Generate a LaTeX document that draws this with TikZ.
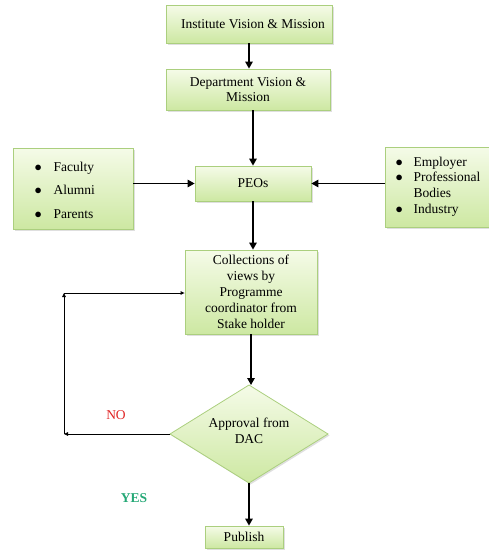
\documentclass[tikz,border=0pt]{standalone}
\usepackage{fontspec}
\setmainfont{Liberation Serif}
\usetikzlibrary{arrows.meta,shapes.geometric,shadows}
\definecolor{boxtop}{HTML}{F5FBE8}
\definecolor{boxbot}{HTML}{CDE8A2}
\definecolor{boxline}{HTML}{ABCF7E}
\definecolor{nored}{HTML}{E02424}
\definecolor{yesgreen}{HTML}{25A876}
\tikzset{
  greenbox/.style={draw=boxline, line width=0.8pt, top color=boxtop, bottom color=boxbot,
    drop shadow={opacity=0.25, shadow xshift=1.5pt, shadow yshift=-1.5pt},
    align=center, font=\fontsize{13.5}{15.5}\selectfont, inner sep=2pt},
  mainarrow/.style={line width=1.4pt, -{Triangle[length=7pt,width=7.5pt]}},
  looparrow/.style={line width=0.9pt, -{Triangle[length=4pt,width=3.5pt]}},
}
\begin{document}
\begin{tikzpicture}[x=1pt,y=-1pt]
\useasboundingbox (0,0) rectangle (489,557);

% main column
\node[greenbox, minimum width=166pt, minimum height=38pt] (ivm) at (249,24) {\hspace{8pt}Institute Vision \& Mission};
\node[greenbox, minimum width=164pt, minimum height=41pt] (dvm) at (248,89.5) {Department Vision \&\\Mission};
\node[greenbox, minimum width=116pt, minimum height=35pt] (peo) at (253,183.5) {PEOs};
\node[greenbox, minimum width=132pt, minimum height=84pt, font=\fontsize{13.5}{16}\selectfont] (coll) at (251,292)
  {Collections of\\views by\\Programme\\coordinator from\\Stake holder};
\node[greenbox, minimum width=78pt, minimum height=22pt] (pub) at (244,537) {Publish};

% decision diamond
\path[draw=boxline, line width=0.8pt, top color=boxtop, bottom color=boxbot,
  drop shadow={opacity=0.25, shadow xshift=1.5pt, shadow yshift=-1.5pt}]
  (249,385) -- (328,434) -- (249,483) -- (170,434) -- cycle;
\node[align=center, font=\fontsize{13.5}{16}\selectfont] (dac) at (249,431) {Approval from\\DAC};
\coordinate (dtop) at (249,385);
\coordinate (dbot) at (249,483);
\coordinate (dleft) at (170,434);

% stakeholder boxes
\node[greenbox, minimum width=120pt, minimum height=81pt] (left) at (73,188.5) {};
\node[anchor=west, font=\fontsize{13.5}{23.5}\selectfont, align=left] (lefttxt) at (31,190)
  {\makebox[19pt][l]{$\bullet$}Faculty\\\makebox[19pt][l]{$\bullet$}Alumni\\\makebox[19pt][l]{$\bullet$}Parents};
\node[greenbox, minimum width=108pt, minimum height=80pt] (right) at (439,187) {};
\node[anchor=west, font=\fontsize{13.5}{15.7}\selectfont, align=left] (righttxt) at (392,186.5)
  {\makebox[18pt][l]{$\bullet$}Employer\\\makebox[18pt][l]{$\bullet$}Professional\\\makebox[18pt][l]{}Bodies\\\makebox[18pt][l]{$\bullet$}Industry};

% main flow
\draw[mainarrow] (ivm.south) -- (ivm.south |- dvm.north);
\draw[mainarrow] (dvm.south -| peo.north) -- (peo.north);
\draw[mainarrow] (left.east |- peo.west) -- (peo.west);
\draw[mainarrow] (right.west |- peo.east) -- (peo.east);
\draw[mainarrow] (peo.south) -- (peo.south |- coll.north);
\draw[mainarrow] (coll.south) -- (coll.south |- dtop);
\draw[mainarrow] (dbot) -- (dbot |- pub.north);

% rejection loop
\coordinate (lb) at (64,434);
\coordinate (lt) at (64,293);
\draw[looparrow] (dleft) -- (lb);
\draw[looparrow] (lb) -- (lt);
\draw[looparrow] (lt) -- (lt -| coll.west);

% branch labels
\node[text=nored, font=\fontsize{13.5}{15}\selectfont] (no) at (116,415) {NO};
\node[text=yesgreen, font=\bfseries\fontsize{13.5}{15}\selectfont] (yes) at (134,498) {YES};
\end{tikzpicture}
\end{document}
